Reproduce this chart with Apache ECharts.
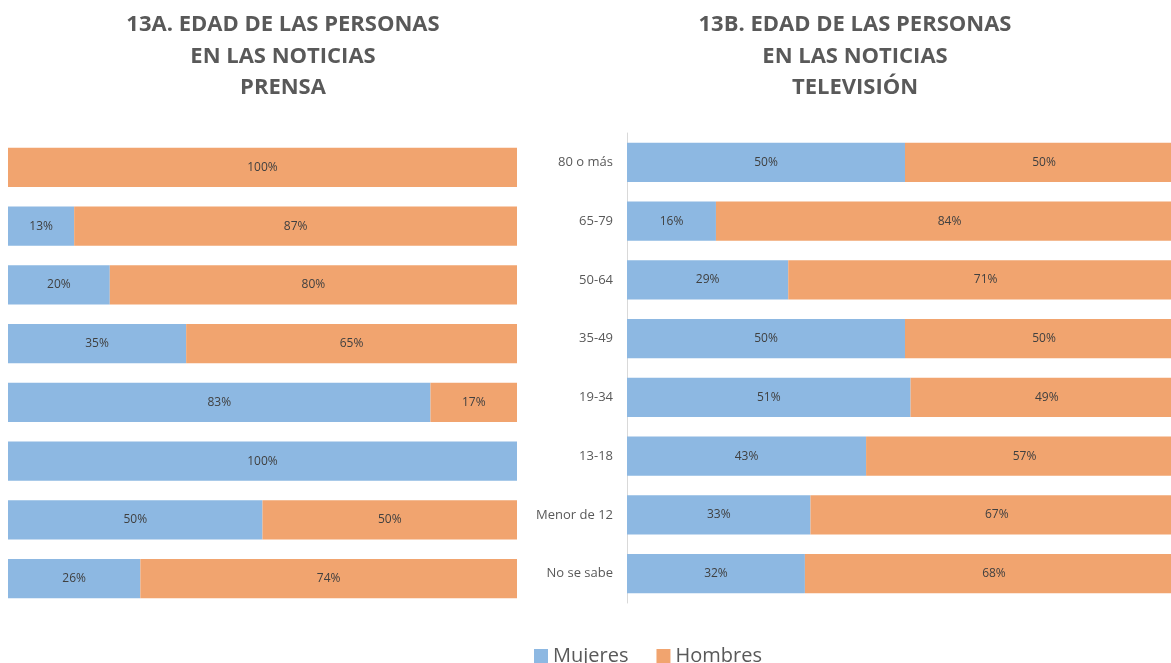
<!DOCTYPE html>
<html>
<head>
<meta charset="utf-8">
<title>Edad de las personas en las noticias</title>
<script src="https://cdn.jsdelivr.net/npm/echarts@6/dist/echarts.min.js"></script>
<style>
  html, body { margin: 0; padding: 0; background: #fff; }
  #chart { width: 1171px; height: 663px; }
</style>
</head>
<body>
<div id="chart"></div>
<script>
// categorías de edad, de arriba hacia abajo
var categorias = ["80 o más", "65-79", "50-64", "35-49", "19-34", "13-18", "Menor de 12", "No se sabe"];

// 13A prensa
var prensaMujeres = [0, 13, 20, 35, 83, 100, 50, 26];
var prensaHombres = [100, 87, 80, 65, 17, 0, 50, 74];

// 13B televisión
var tvMujeres = [50, 16, 29, 50, 51, 43, 33, 32];
var tvHombres = [50, 84, 71, 50, 49, 57, 67, 68];

var colorMujeres = "#8db8e2";
var colorHombres = "#f1a46f";
var fuente = "Open Sans";

function etiqueta() {
    return {
        show: true,
        position: "inside",
        color: "#404040",
        fontSize: 12,
        fontFamily: fuente,
        formatter: function(p) { return p.value > 0 ? p.value + "%" : ""; }
    };
}

function serie(nombre, datos, color, idx) {
    return {
        name: nombre,
        type: "bar",
        stack: "s" + idx,
        xAxisIndex: idx,
        yAxisIndex: idx,
        barCategoryGap: "33%",
        data: datos,
        itemStyle: { color: color },
        label: etiqueta()
    };
}

var tituloEstilo = {
    fontSize: 22,
    fontWeight: "bold",
    color: "#595959",
    fontFamily: fuente,
    lineHeight: 31.5
};

var chart = echarts.init(document.getElementById("chart"));
chart.setOption({
    animation: false,
    title: [
        { text: "13A. EDAD DE LAS PERSONAS\nEN LAS NOTICIAS\nPRENSA", left: 278, top: 4, textAlign: "center", textStyle: tituloEstilo },
        { text: "13B. EDAD DE LAS PERSONAS\nEN LAS NOTICIAS\nTELEVISIÓN", left: 850, top: 4, textAlign: "center", textStyle: tituloEstilo }
    ],
    legend: {
        data: ["Mujeres", "Hombres"],
        top: 641,
        left: 529,
        itemWidth: 14,
        itemHeight: 14,
        itemGap: 28,
        icon: "rect",
        textStyle: { fontSize: 20, color: "#595959", fontFamily: fuente }
    },
    grid: [
        { left: 8, width: 509, top: 138, height: 470, outerBoundsMode: "none" },
        // la escala de televisión sigue más allá del borde derecho
        { left: 627, width: 556, top: 133, height: 470, outerBoundsMode: "none" }
    ],
    xAxis: [
        { gridIndex: 0, type: "value", min: 0, max: 100, show: false },
        { gridIndex: 1, type: "value", min: 0, max: 100, show: false }
    ],
    yAxis: [
        { gridIndex: 0, type: "category", inverse: true, data: categorias, show: false },
        {
            gridIndex: 1, type: "category", inverse: true, data: categorias,
            axisLine: { show: true, lineStyle: { color: "#d9d9d9", width: 1 } },
            axisTick: { show: false },
            axisLabel: { color: "#595959", fontSize: 13, fontFamily: fuente, margin: 14 }
        }
    ],
    series: [
        serie("Mujeres", prensaMujeres, colorMujeres, 0),
        serie("Hombres", prensaHombres, colorHombres, 0),
        serie("Mujeres", tvMujeres, colorMujeres, 1),
        serie("Hombres", tvHombres, colorHombres, 1)
    ]
});
</script>
</body>
</html>
